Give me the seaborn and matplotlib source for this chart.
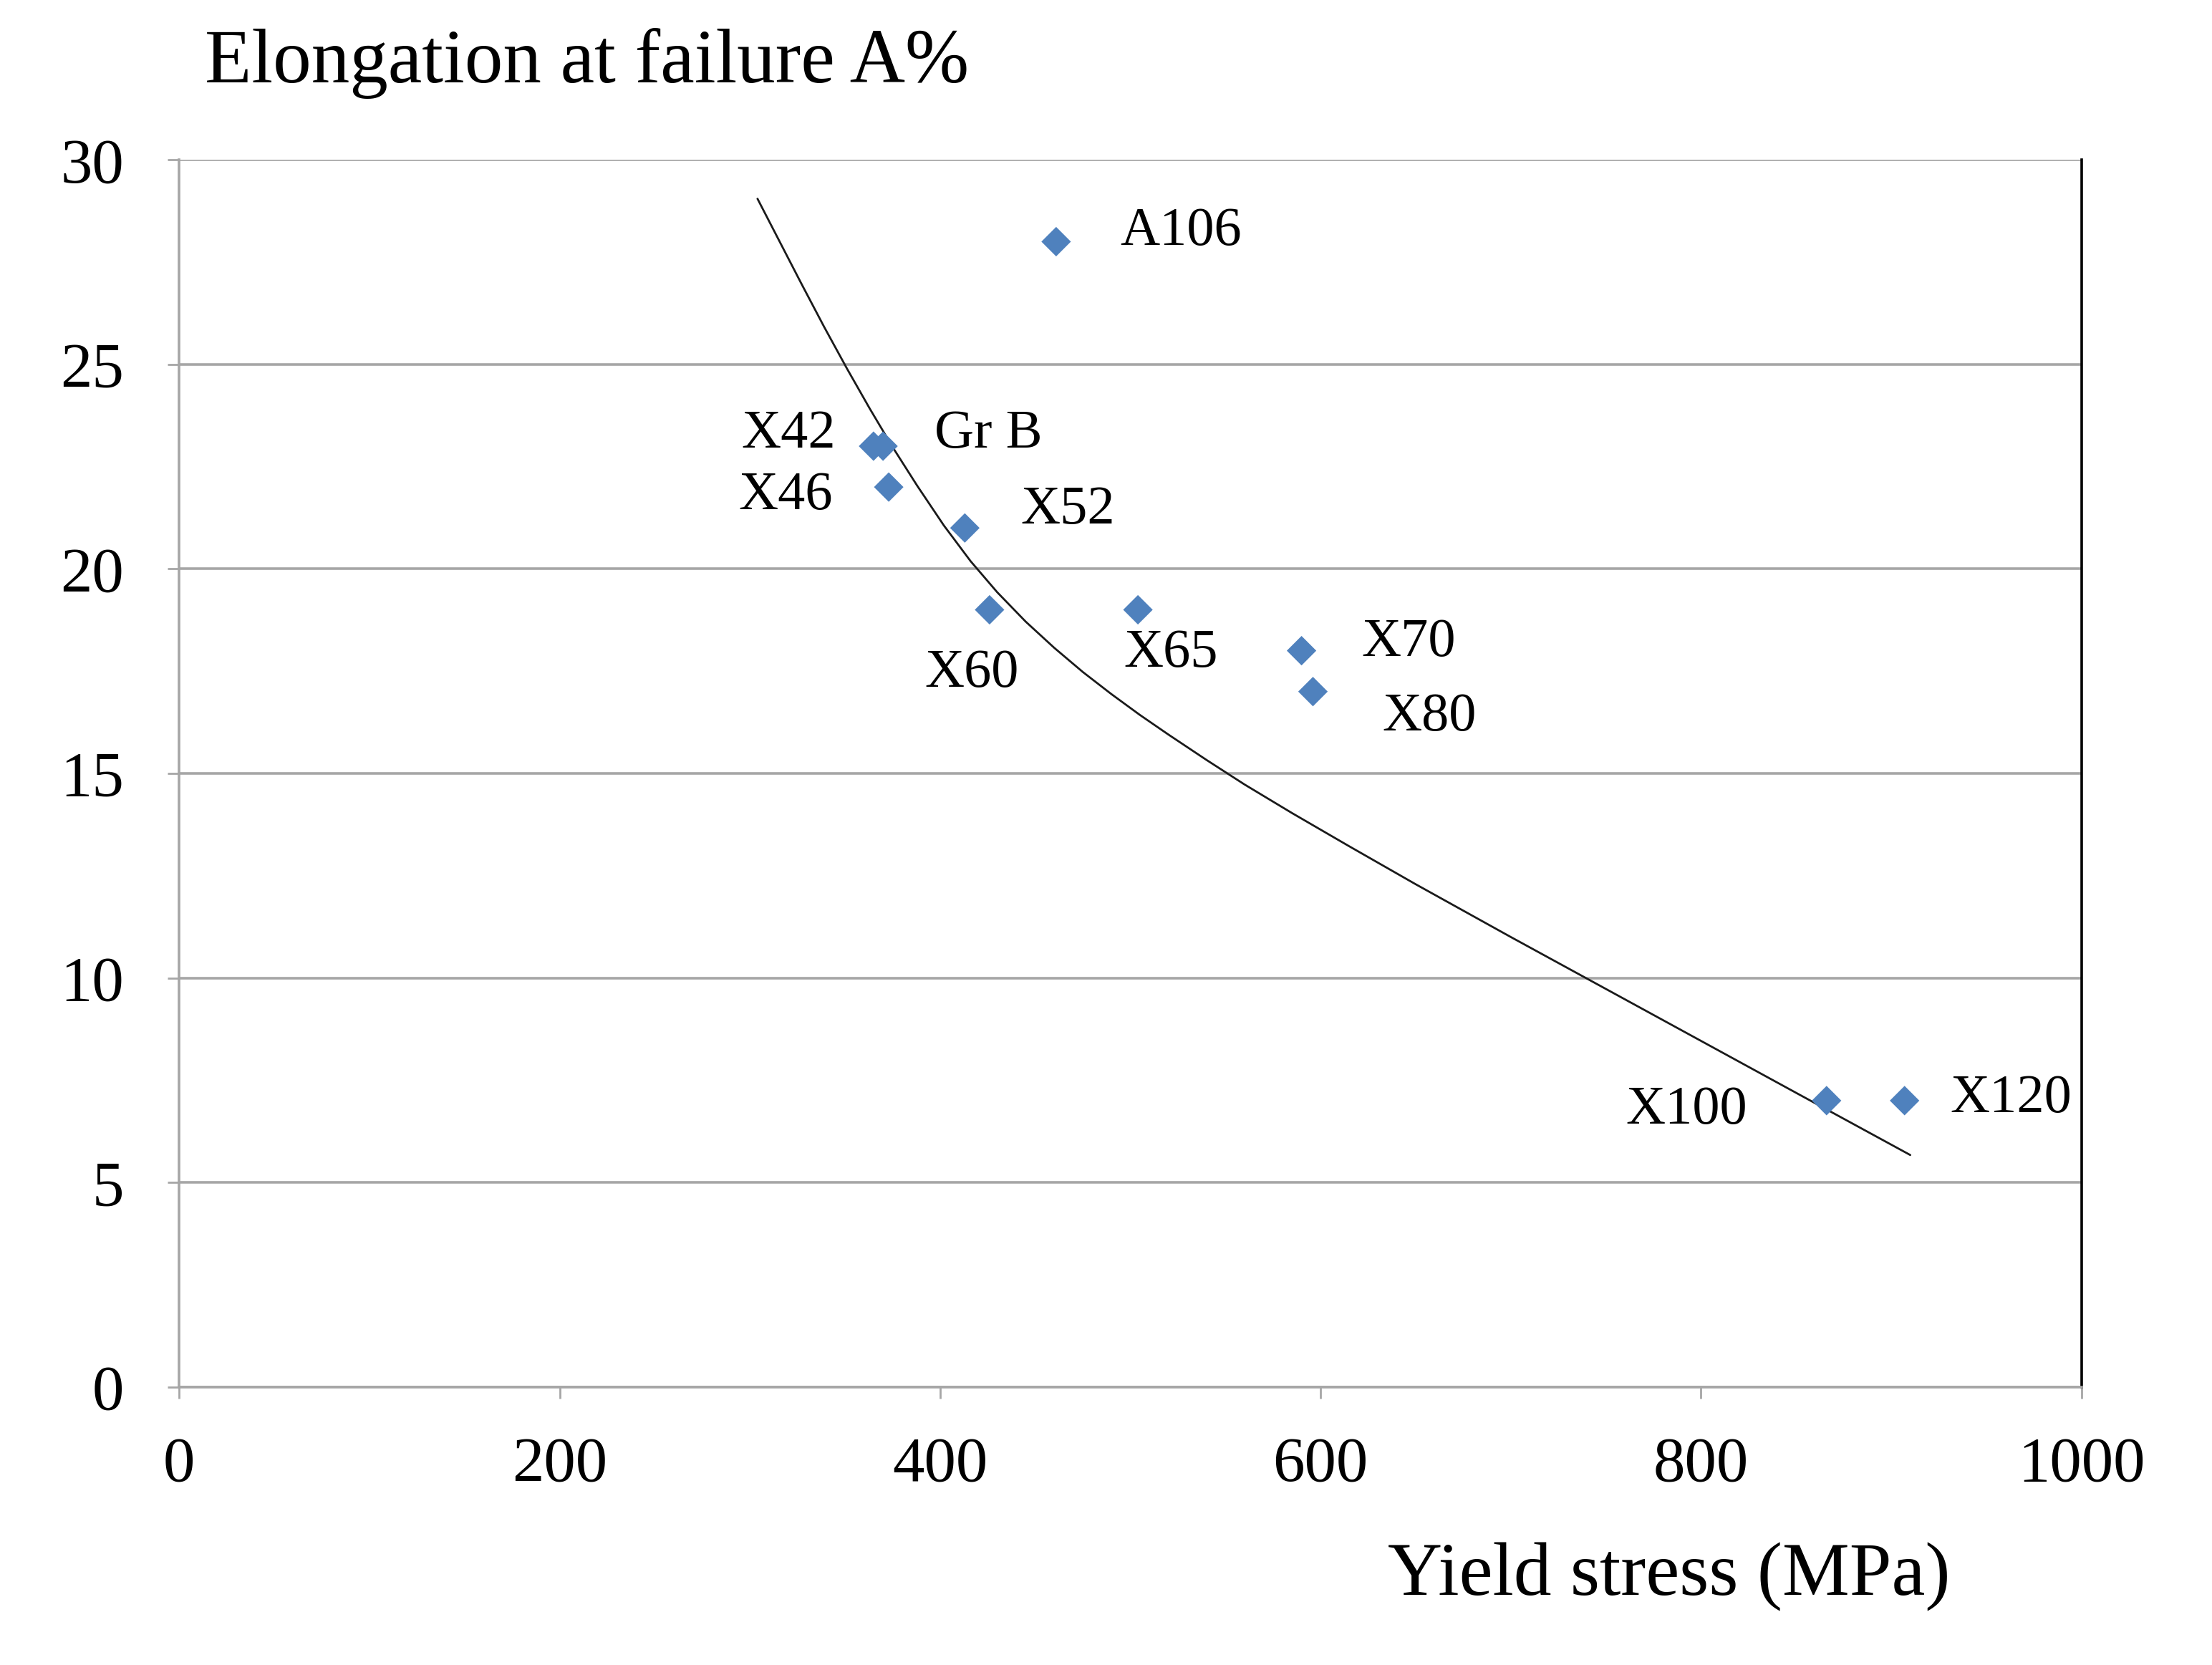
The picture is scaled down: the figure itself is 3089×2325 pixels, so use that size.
import matplotlib
matplotlib.use("Agg")
import matplotlib.pyplot as plt
import pandas as pd
import seaborn as sns

# steel grades: yield stress (MPa) vs elongation at failure (%)
grades = ["A106", "X42", "Gr B", "X46", "X52", "X60", "X65", "X70", "X80", "X100", "X120"]
yield_stress = [461, 365, 370, 373, 413, 426, 504, 590, 596, 866, 907]
elongation = [28, 23, 23, 22, 21, 19, 19, 18, 17, 7, 7]

# trend curve
trend_x = [304, 315, 327, 339, 351, 363, 375, 388, 402, 416, 430, 445, 460, 475,
           490, 505, 520, 540, 560, 585, 615, 650, 700, 750, 800, 850, 880, 910]
trend_y = [29.05, 28.06, 26.98, 25.92, 24.90, 23.92, 22.98, 22.03, 21.06, 20.19, 19.43, 18.71, 18.07, 17.48,
           16.94, 16.43, 15.95, 15.33, 14.73, 14.03, 13.22, 12.29, 11.00, 9.73, 8.46, 7.19, 6.43, 5.67]

x_ticks = [0, 200, 400, 600, 800, 1000]
y_ticks = [0, 5, 10, 15, 20, 25, 30]

# label placement: (dx pt, dy pt, ha)
label_offsets = {
    "A106": (32, 5, "left"),
    "X42": (-19, 6, "right"),
    "Gr B": (26, 6, "left"),
    "X46": (-28, -4.5, "right"),
    "X52": (28, 9, "left"),
    "X60": (-9, -32, "center"),
    "X65": (-7, -22, "left"),
    "X70": (30, 4, "left"),
    "X80": (35, -13, "left"),
    "X100": (-40, -5, "right"),
    "X120": (23, 1, "left"),
}

points = pd.DataFrame({"grade": grades, "ys": yield_stress, "el": elongation})
trend = pd.DataFrame({"ys": trend_x, "el": trend_y})

sns.set_theme(style="white")
plt.rcParams["font.family"] = ["Liberation Serif", "DejaVu Serif"]
plt.rcParams["text.color"] = "black"
plt.rcParams["axes.labelcolor"] = "black"

fig = plt.figure(figsize=(15.445, 11.625), dpi=200)
ax = fig.add_axes([0.081, 0.167, 0.860, 0.737])

grid_col = "#A6A6A6"
for v in y_ticks:
    ax.axhline(v, color=grid_col, lw=1.3, zorder=1)

sns.lineplot(data=trend, x="ys", y="el", sort=False, color="#1a1a1a", lw=1.0, ax=ax, zorder=2,
             solid_joinstyle="round")
sns.scatterplot(data=points, x="ys", y="el", marker="D", s=110, color="#4F81BD",
                edgecolor="none", ax=ax, zorder=3)

for g, xv, yv in zip(grades, yield_stress, elongation):
    dx, dy, ha = label_offsets[g]
    ax.annotate(g, (xv, yv), xytext=(dx, dy), textcoords="offset points",
                ha=ha, va="center", fontsize=27.5, color="black")

ax.set_xlim(0, 1000)
ax.set_ylim(0, 30)
ax.set_xticks(x_ticks)
ax.set_yticks(y_ticks)
ax.tick_params(axis="x", direction="out", length=5.8, width=1.0, color=grid_col,
               pad=19, labelsize=32, labelcolor="black", bottom=True)
ax.tick_params(axis="y", direction="out", length=5.8, width=1.0, color=grid_col,
               pad=22, labelsize=32, labelcolor="black", left=True)

for side in ["left", "bottom"]:
    ax.spines[side].set_color(grid_col)
    ax.spines[side].set_linewidth(1.3)
ax.spines["top"].set_visible(False)
ax.spines["right"].set_color("black")
ax.spines["right"].set_linewidth(1.3)

ax.set_ylabel("")
ax.set_xlabel("Yield stress (MPa)", fontsize=38)
ax.xaxis.set_label_coords(0.783, -0.155)
ax.xaxis.label.set_va("center")

fig.text(0.0925, 0.962, "Elongation at failure A%", fontsize=38.5, ha="left", va="center")

fig.savefig("out.png", dpi=200, facecolor="white")
